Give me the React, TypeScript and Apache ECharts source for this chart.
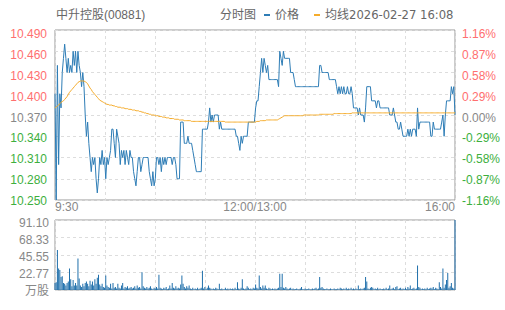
import React, { useEffect, useRef } from "react";
import * as echarts from "echarts";

const stockName = "中升控股(00881)";
const chartName = "分时图";
const quoteTime = "2026-02-27 16:08";

const priceTicks = ["10.250", "10.280", "10.310", "10.340", "10.370", "10.400", "10.430", "10.460", "10.490"];
const pctTicks = ["-1.16%", "-0.87%", "-0.58%", "-0.29%", "0.00%", "0.29%", "0.58%", "0.87%", "1.16%"];
const timeTicks = ["9:30", "", "", "", "12:00/13:00", "", "", "", "16:00"];
const volTicks = ["万股", "22.77", "45.55", "68.33", "91.10"];
const priceMin = 10.25;
const priceMax = 10.49;

const price = [
  10.40, 10.25, 10.44, 10.30, 10.40, 10.38, 10.43, 10.45, 10.47, 10.45,
  10.43, 10.45, 10.43, 10.44, 10.43, 10.46, 10.44, 10.46, 10.43, 10.46,
  10.44, 10.43, 10.41, 10.43, 10.41, 10.37, 10.34, 10.36, 10.33, 10.31,
  10.29, 10.31, 10.30, 10.31, 10.28, 10.26, 10.28, 10.31, 10.30, 10.32,
  10.30, 10.31, 10.28, 10.31, 10.30, 10.31, 10.32, 10.35, 10.35, 10.33,
  10.31, 10.35, 10.34, 10.33, 10.30, 10.32, 10.31, 10.32, 10.30, 10.32,
  10.31, 10.30, 10.32, 10.31, 10.31, 10.29, 10.28, 10.27, 10.29, 10.31,
  10.31, 10.29, 10.30, 10.31, 10.31, 10.31, 10.31, 10.31, 10.29, 10.28,
  10.27, 10.29, 10.27, 10.28, 10.31, 10.31, 10.30, 10.31, 10.29, 10.31,
  10.30, 10.31, 10.30, 10.31, 10.31, 10.31, 10.31, 10.30, 10.31, 10.31,
  10.30, 10.28, 10.28, 10.28, 10.36, 10.36, 10.36, 10.33, 10.33, 10.33,
  10.34, 10.33, 10.33, 10.33, 10.32, 10.31, 10.30, 10.29, 10.29, 10.29,
  10.29, 10.29, 10.35, 10.35, 10.35, 10.35, 10.35, 10.36, 10.38, 10.36,
  10.37, 10.36, 10.37, 10.37, 10.37, 10.37, 10.35, 10.36, 10.35, 10.35,
  10.35, 10.35, 10.35, 10.35, 10.35, 10.35, 10.35, 10.35, 10.35, 10.35,
  10.34, 10.34, 10.33, 10.32, 10.34, 10.33, 10.34, 10.34, 10.34, 10.34,
  10.36, 10.36, 10.36, 10.36, 10.36, 10.36, 10.38, 10.39, 10.39, 10.41,
  10.43, 10.45, 10.43, 10.45, 10.44, 10.43, 10.44, 10.42, 10.42, 10.42,
  10.42, 10.42, 10.42, 10.42, 10.42, 10.41, 10.46, 10.45, 10.44, 10.46,
  10.45, 10.45, 10.45, 10.45, 10.45, 10.43, 10.43, 10.43, 10.42, 10.41,
  10.41, 10.41, 10.41, 10.41, 10.41, 10.41, 10.41, 10.41, 10.41, 10.41,
  10.41, 10.41, 10.41, 10.41, 10.41, 10.41, 10.41, 10.41, 10.41, 10.44,
  10.44, 10.43, 10.43, 10.43, 10.43, 10.43, 10.43, 10.42, 10.42, 10.42,
  10.42, 10.42, 10.42, 10.41, 10.40, 10.41, 10.40, 10.41, 10.40, 10.41,
  10.40, 10.40, 10.41, 10.40, 10.40, 10.41, 10.40, 10.38, 10.38, 10.38,
  10.38, 10.37, 10.38, 10.37, 10.37, 10.37, 10.36, 10.38, 10.41, 10.41,
  10.41, 10.41, 10.39, 10.39, 10.39, 10.39, 10.38, 10.39, 10.39, 10.38,
  10.38, 10.38, 10.38, 10.38, 10.38, 10.38, 10.38, 10.37, 10.37, 10.37,
  10.38, 10.37, 10.36, 10.36, 10.35, 10.35, 10.36, 10.35, 10.34, 10.34,
  10.34, 10.34, 10.35, 10.34, 10.35, 10.34, 10.35, 10.35, 10.35, 10.34,
  10.38, 10.35, 10.36, 10.36, 10.36, 10.36, 10.36, 10.36, 10.36, 10.36,
  10.36, 10.34, 10.34, 10.36, 10.35, 10.35, 10.35, 10.35, 10.35, 10.35,
  10.36, 10.37, 10.34, 10.37, 10.39, 10.39, 10.39, 10.39, 10.41, 10.40,
  10.41, 10.37,
];

const avg = [
  10.380, 10.381, 10.383, 10.384, 10.386, 10.388, 10.389, 10.390, 10.392, 10.394,
  10.396, 10.399, 10.402, 10.404, 10.406, 10.408, 10.410, 10.412, 10.414, 10.416,
  10.417, 10.418, 10.418, 10.418, 10.418, 10.417, 10.416, 10.414, 10.411, 10.408,
  10.406, 10.403, 10.401, 10.399, 10.397, 10.395, 10.393, 10.391, 10.390, 10.389,
  10.388, 10.387, 10.386, 10.385, 10.385, 10.384, 10.384, 10.384, 10.383, 10.383,
  10.382, 10.382, 10.381, 10.381, 10.381, 10.380, 10.380, 10.380, 10.379, 10.379,
  10.379, 10.378, 10.378, 10.378, 10.377, 10.377, 10.377, 10.376, 10.376, 10.376,
  10.375, 10.375, 10.374, 10.374, 10.373, 10.373, 10.372, 10.372, 10.371, 10.371,
  10.370, 10.370, 10.370, 10.369, 10.369, 10.369, 10.368, 10.368, 10.368, 10.367,
  10.367, 10.367, 10.366, 10.366, 10.366, 10.365, 10.365, 10.365, 10.365, 10.364,
  10.364, 10.364, 10.364, 10.363, 10.363, 10.363, 10.363, 10.362, 10.362, 10.362,
  10.362, 10.362, 10.362, 10.361, 10.361, 10.361, 10.361, 10.361, 10.361, 10.361,
  10.361, 10.361, 10.361, 10.361, 10.361, 10.361, 10.361, 10.361, 10.361, 10.361,
  10.361, 10.361, 10.361, 10.361, 10.361, 10.361, 10.361, 10.361, 10.361, 10.361,
  10.361, 10.360, 10.360, 10.360, 10.360, 10.360, 10.360, 10.360, 10.360, 10.360,
  10.360, 10.360, 10.360, 10.360, 10.360, 10.360, 10.360, 10.360, 10.360, 10.360,
  10.360, 10.360, 10.360, 10.360, 10.360, 10.360, 10.360, 10.361, 10.361, 10.361,
  10.362, 10.362, 10.362, 10.362, 10.362, 10.363, 10.363, 10.363, 10.363, 10.363,
  10.363, 10.363, 10.363, 10.363, 10.363, 10.364, 10.365, 10.366, 10.367, 10.368,
  10.369, 10.369, 10.369, 10.369, 10.369, 10.369, 10.369, 10.369, 10.369, 10.369,
  10.369, 10.369, 10.369, 10.369, 10.369, 10.369, 10.370, 10.370, 10.370, 10.370,
  10.370, 10.370, 10.370, 10.370, 10.370, 10.370, 10.370, 10.370, 10.370, 10.371,
  10.371, 10.371, 10.371, 10.371, 10.371, 10.371, 10.371, 10.371, 10.371, 10.371,
  10.371, 10.372, 10.372, 10.372, 10.372, 10.372, 10.372, 10.372, 10.372, 10.372,
  10.372, 10.372, 10.372, 10.372, 10.372, 10.372, 10.373, 10.373, 10.373, 10.373,
  10.373, 10.373, 10.373, 10.373, 10.373, 10.373, 10.373, 10.373, 10.373, 10.373,
  10.373, 10.373, 10.373, 10.373, 10.373, 10.373, 10.373, 10.373, 10.373, 10.373,
  10.373, 10.373, 10.373, 10.373, 10.373, 10.373, 10.373, 10.373, 10.373, 10.373,
  10.373, 10.373, 10.373, 10.373, 10.373, 10.373, 10.373, 10.373, 10.373, 10.373,
  10.373, 10.373, 10.373, 10.373, 10.373, 10.373, 10.373, 10.373, 10.373, 10.373,
  10.373, 10.373, 10.373, 10.373, 10.373, 10.373, 10.373, 10.373, 10.373, 10.373,
  10.373, 10.373, 10.373, 10.373, 10.373, 10.373, 10.373, 10.373, 10.373, 10.373,
  10.373, 10.373, 10.373, 10.373, 10.373, 10.373, 10.373, 10.373, 10.373, 10.373,
  10.373, 10.373,
];

const volume = [
  9, 10, 52, 28, 26, 17, 18, 9, 8, 6,
  9, 11, 28, 14, 5, 13, 6, 9, 6, 41,
  15, 6, 4, 8, 5, 9, 11, 8, 5, 12,
  7, 11, 6, 14, 8, 16, 20, 7, 5, 8,
  4, 3, 19, 6, 4, 3, 8, 2, 9, 3,
  4, 2, 8, 3, 2, 6, 9, 2, 4, 3,
  5, 2, 3, 4, 2, 3, 5, 2, 6, 3,
  4, 2, 23, 5, 3, 2, 4, 2, 3, 5,
  2, 1, 3, 2, 4, 2, 20, 3, 2, 1,
  3, 2, 4, 1, 2, 6, 2, 9, 3, 2,
  5, 2, 3, 2, 7, 19, 8, 4, 2, 5,
  3, 6, 2, 1, 3, 1, 2, 1, 3, 1,
  2, 3, 25, 2, 4, 1, 3, 6, 3, 2,
  1, 2, 1, 3, 2, 1, 8, 1, 2, 1,
  1, 3, 1, 2, 1, 2, 1, 2, 1, 3,
  1, 10, 2, 1, 3, 14, 2, 1, 2, 5,
  3, 1, 2, 1, 3, 2, 7, 3, 2, 19,
  4, 2, 6, 3, 6, 2, 1, 3, 2, 1,
  2, 1, 2, 1, 2, 3, 21, 4, 21, 3,
  2, 4, 2, 1, 2, 3, 1, 2, 1, 1,
  2, 1, 1, 2, 4, 1, 1, 2, 1, 1,
  2, 1, 1, 2, 1, 2, 3, 1, 2, 17,
  3, 4, 2, 1, 1, 2, 1, 1, 2, 1,
  1, 2, 1, 1, 2, 1, 3, 2, 1, 2,
  1, 3, 1, 2, 1, 3, 1, 2, 1, 2,
  1, 6, 1, 2, 1, 2, 3, 17, 11, 2,
  1, 3, 4, 3, 1, 2, 1, 3, 1, 2,
  1, 1, 2, 1, 3, 1, 2, 6, 1, 2,
  3, 1, 4, 5, 1, 2, 3, 1, 2, 1,
  3, 1, 4, 2, 6, 1, 2, 3, 1, 2,
  32, 4, 3, 1, 2, 1, 2, 1, 3, 1,
  2, 3, 2, 4, 1, 3, 2, 1, 10, 4,
  2, 28, 3, 7, 13, 22, 3, 5, 9, 3,
  2, 91.1,
];

// minute categories: 9:30-12:00, 13:01-16:00, closing auction 16:08
function buildTimes(): string[] {
  const out: string[] = [];
  const push = (m: number) => {
    const h = Math.floor(m / 60);
    const mm = m % 60;
    out.push(`${h}:${mm < 10 ? "0" : ""}${mm}`);
  };
  for (let m = 9 * 60 + 30; m <= 12 * 60; m++) push(m);
  for (let m = 13 * 60 + 1; m <= 16 * 60; m++) push(m);
  push(16 * 60 + 8);
  return out;
}
const times = buildTimes().slice(0, price.length);

const BLUE = "#2e7db6";
const BAR_BLUE = "#1f6fab";
const ORANGE = "#f5ac2c";
const RED = "#ff6f6f";
const GREEN = "#3daf3d";
const GREY = "#888888";
const GRID_LINE = "#dddddd";
const FONT = "'Liberation Sans', 'Noto Sans CJK SC', Arial, sans-serif";

const signColor = (v: number) => (v > 0 ? RED : v < 0 ? GREEN : GREY);

export default function App() {
  const ref = useRef<HTMLDivElement>(null);
  useEffect(() => {
    if (!ref.current) return;
    const chart = echarts.init(ref.current, null, { renderer: "svg" });
    const dashed = { show: true, lineStyle: { color: GRID_LINE, type: [3, 3] as any, width: 1 } };
    const hiddenAxis = { axisLine: { show: false }, axisTick: { show: false }, axisLabel: { show: false }, splitLine: { show: false } };
    const option: any = {
      animation: false,
      textStyle: { fontFamily: FONT },
      title: [
        { text: stockName, left: 56, top: 9, padding: 0, textStyle: { fontSize: 12, fontWeight: "normal", color: "#666", fontFamily: FONT } },
        { text: chartName, left: 220, top: 9, padding: 0, textStyle: { fontSize: 12, fontWeight: "normal", color: "#666", fontFamily: FONT } },
      ],
      legend: {
        left: 264,
        top: 9,
        padding: 0,
        selectedMode: false,
        itemWidth: 6,
        itemHeight: 2,
        itemGap: 15,
        data: [
          { name: "价格", icon: "rect" },
          { name: "均线", icon: "rect" },
        ],
        formatter: (name: string) => (name === "均线" ? name + "{d|" + quoteTime + "}" : name),
        textStyle: {
          fontSize: 12, color: "#666", fontFamily: FONT,
          rich: { d: { fontSize: 11.6, color: "#666", fontFamily: "'DejaVu Sans', sans-serif" } },
        },
      },
      grid: [
        { left: 55, top: 30, width: 400, height: 170, show: true, borderColor: "#999", borderWidth: 1, backgroundColor: "transparent" },
        { left: 55, top: 220, width: 400, height: 70, show: true, borderColor: "#999", borderWidth: 1, backgroundColor: "transparent" },
        { left: 55, top: 34.3, width: 400, height: 166.5, show: false },
        { left: 55, top: 222.5, width: 400, height: 68.5, show: false },
      ],
      xAxis: [
        { type: "category", gridIndex: 0, data: times, boundaryGap: false, show: false },
        {
          type: "value", gridIndex: 0, min: 0, max: timeTicks.length - 1, interval: 1, position: "bottom",
          axisLine: { show: false }, axisTick: { show: false },
          axisLabel: {
            formatter: (v: number) => timeTicks[v] ?? "", color: GREY, fontSize: 12, margin: 1,
            alignMinLabel: "left", alignMaxLabel: "right", fontFamily: FONT,
          },
          splitLine: dashed,
        },
        { type: "category", gridIndex: 1, data: times, boundaryGap: false, show: false },
        {
          type: "value", gridIndex: 1, min: 0, max: timeTicks.length - 1, interval: 1,
          axisLine: { show: false }, axisTick: { show: false }, axisLabel: { show: false },
          splitLine: dashed,
        },
        { type: "value", gridIndex: 2, min: 0, max: 1, show: false, ...hiddenAxis },
        { type: "value", gridIndex: 3, min: 0, max: 1, show: false, ...hiddenAxis },
      ],
      yAxis: [
        // 0: price scale for the lines
        { type: "value", gridIndex: 0, min: priceMin, max: priceMax, show: false, splitLine: { show: false } },
        // 1: horizontal grid lines of the price panel
        { type: "value", gridIndex: 0, min: 0, max: priceTicks.length - 1, interval: 1, ...hiddenAxis, splitLine: dashed },
        // 2: price tick labels (left)
        {
          type: "value", gridIndex: 2, min: -4, max: 4, interval: 1, position: "left",
          axisLine: { show: false }, axisTick: { show: false }, splitLine: { show: false },
          axisLabel: { formatter: (v: number) => priceTicks[v + 4] ?? "", color: (v: number) => signColor(v), fontSize: 12, margin: 8, fontFamily: FONT },
        },
        // 3: percent tick labels (right)
        {
          type: "value", gridIndex: 2, min: -4, max: 4, interval: 1, position: "right",
          axisLine: { show: false }, axisTick: { show: false }, splitLine: { show: false },
          axisLabel: { formatter: (v: number) => pctTicks[v + 4] ?? "", color: (v: number) => signColor(v), fontSize: 12, margin: 7, fontFamily: FONT },
        },
        // 4: volume scale for the bars
        { type: "value", gridIndex: 1, min: 0, max: Math.max(...volume), show: false, splitLine: { show: false } },
        // 5: horizontal grid lines of the volume panel
        { type: "value", gridIndex: 1, min: 0, max: volTicks.length - 1, interval: 1, ...hiddenAxis, splitLine: dashed },
        // 6: volume tick labels
        {
          type: "value", gridIndex: 3, min: 0, max: volTicks.length - 1, interval: 1, position: "left",
          axisLine: { show: false }, axisTick: { show: false }, splitLine: { show: false },
          axisLabel: { formatter: (v: number) => volTicks[v] ?? "", color: GREY, fontSize: 12, margin: 6, fontFamily: FONT },
        },
      ],
      series: [
        {
          name: "价格", type: "line", xAxisIndex: 0, yAxisIndex: 0, data: price,
          symbol: "none", lineStyle: { width: 1, color: BLUE }, itemStyle: { color: BLUE },
        },
        {
          name: "均线", type: "line", xAxisIndex: 0, yAxisIndex: 0, data: avg,
          symbol: "none", lineStyle: { width: 1, color: ORANGE }, itemStyle: { color: ORANGE },
        },
        {
          name: "成交量", type: "bar", xAxisIndex: 2, yAxisIndex: 4, data: volume,
          barWidth: 1, itemStyle: { color: BAR_BLUE },
        },
      ],
    };
    chart.setOption(option);
    return () => chart.dispose();
  }, []);
  return <div ref={ref} style={{ position: "absolute", left: 0, top: 0, width: 505, height: 310 }} />;
}
